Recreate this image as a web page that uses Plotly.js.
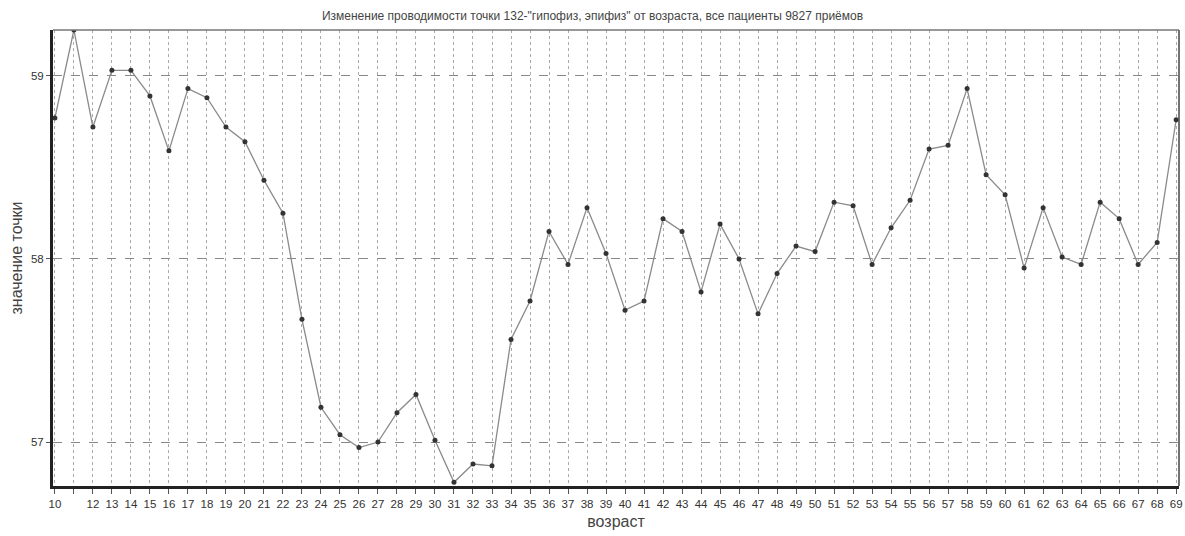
<!DOCTYPE html>
<html>
<head>
<meta charset="utf-8">
<script src="https://cdn.plot.ly/plotly-3.0.1.min.js"></script>
<style>html,body{margin:0;padding:0;background:#fff;}#chart{width:1185px;height:536px;}</style>
</head>
<body>
<div id="chart"></div>
<script>
var ages = [10,11,12,13,14,15,16,17,18,19,20,21,22,23,24,25,26,27,28,29,30,31,32,33,34,35,36,37,38,39,40,41,42,43,44,45,46,47,48,49,50,51,52,53,54,55,56,57,58,59,60,61,62,63,64,65,66,67,68,69];
var values = [58.77,59.25,58.72,59.03,59.03,58.89,58.59,58.93,58.88,58.72,58.64,58.43,58.25,57.67,57.19,57.04,56.97,57.00,57.16,57.26,57.01,56.78,56.88,56.87,57.56,57.77,58.15,57.97,58.28,58.03,57.72,57.77,58.22,58.15,57.82,58.19,58.00,57.70,57.92,58.07,58.04,58.31,58.29,57.97,58.17,58.32,58.60,58.62,58.93,58.46,58.35,57.95,58.28,58.01,57.97,58.31,58.22,57.97,58.09,58.76];
var xTickLabels = ["10","","12","13","14","15","16","17","18","19","20","21","22","23","24","25","26","27","28","29","30","31","32","33","34","35","36","37","38","39","40","41","42","43","44","45","46","47","48","49","50","51","52","53","54","55","56","57","58","59","60","61","62","63","64","65","66","67","68","69"];
var yTicks = [57,58,59];
var titleText = 'Изменение проводимости точки 132-"гипофиз, эпифиз" от возраста, все пациенты 9827 приёмов';

var trace = {
  x: ages, y: values, type: 'scatter', mode: 'lines+markers',
  line: {color: '#8a8a8a', width: 1.3},
  marker: {color: '#333333', size: 5},
  hoverinfo: 'x+y'
};
var layout = {
  width: 1185, height: 536,
  margin: {l: 53, r: 6, t: 30, b: 50},
  paper_bgcolor: '#fff', plot_bgcolor: '#fff',
  showlegend: false,
  font: {family: 'Arial, Liberation Sans, sans-serif', color: '#333'},
  title: {text: titleText, x: 0.5, xanchor: 'center', y: 0.978, yanchor: 'top',
          font: {size: 12, color: '#444', family: 'Arial, Liberation Sans, sans-serif'}},
  xaxis: {
    range: [9.9, 69.15], tickvals: ages, ticktext: xTickLabels,
    tickangle: 0,
    showgrid: true, gridcolor: '#aaa', griddash: 'dot', gridwidth: 1,
    zeroline: false, ticks: 'outside', ticklen: 5, tickcolor: '#555',
    showline: true, linecolor: '#222', linewidth: 3, mirror: false,
    tickfont: {size: 11.5, color: '#333'},
    title: {text: 'возраст', font: {size: 16, color: '#444'}, standoff: 8}
  },
  yaxis: {
    range: [56.76, 59.25], tickvals: yTicks, ticktext: yTicks.map(String),
    showgrid: true, gridcolor: '#888', griddash: 'dash', gridwidth: 1,
    zeroline: false, ticks: 'outside', ticklen: 4, tickcolor: '#555',
    showline: true, linecolor: '#222', linewidth: 3,
    tickfont: {size: 11.5, color: '#333'},
    title: {text: 'значение точки', font: {size: 16, color: '#444'}, standoff: 5}
  },
  shapes: [
    {type: 'line', xref: 'paper', yref: 'paper', x0: 1, x1: 1, y0: 0, y1: 1, line: {color: '#444', width: 1.5}},
    {type: 'line', xref: 'paper', yref: 'paper', x0: 0, x1: 1, y0: 1, y1: 1, line: {color: '#777', width: 1.5}}
  ]
};
Plotly.newPlot('chart', [trace], layout, {displayModeBar: false, staticPlot: true});
</script>
</body>
</html>
